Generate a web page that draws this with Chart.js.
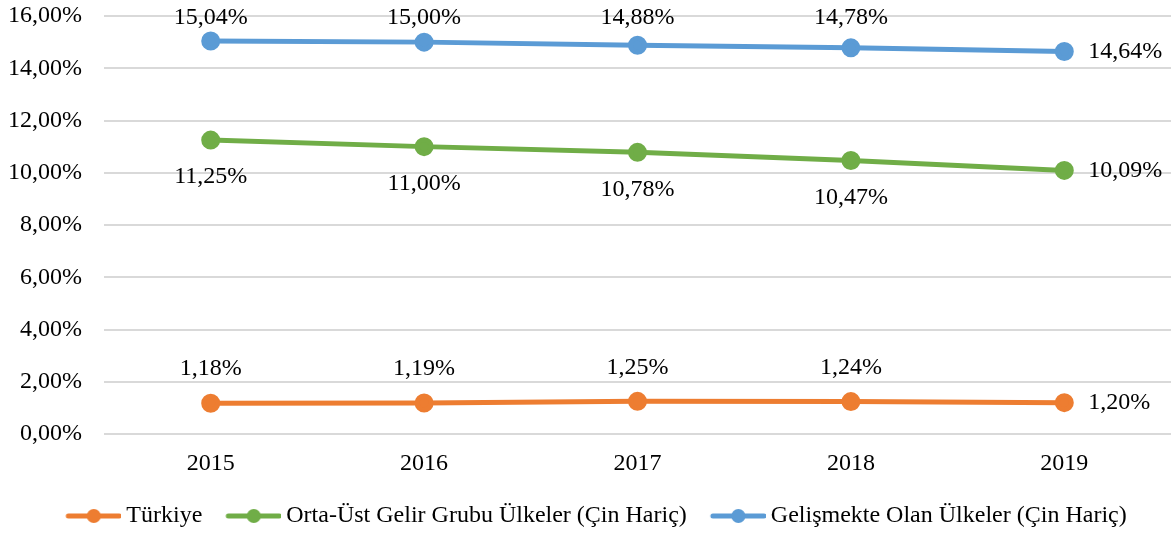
<!DOCTYPE html>
<html lang="tr">
<head>
  <meta charset="UTF-8">
  <title>Grafik</title>
  <script src="https://cdn.jsdelivr.net/npm/chart.js"></script>
  <style>
    html, body { margin: 0; padding: 0; background: #fff; }
    #kutu { width: 1171px; height: 536px; }
  </style>
</head>
<body>
  <div id="kutu"><canvas id="grafik"></canvas></div>

  <script>
    const yillar = ['2015', '2016', '2017', '2018', '2019'];
    const turkiye = [1.18, 1.19, 1.25, 1.24, 1.20];
    const ortaUst = [11.25, 11.00, 10.78, 10.47, 10.09];
    const gelismekte = [15.04, 15.00, 14.88, 14.78, 14.64];

    const FONT = 'Liberation Serif, Times New Roman, serif';
    const BOYUT = 24;
    const yuzde = v => v.toFixed(2).replace('.', ',') + '%';

    // legend marker: line with a dot, drawn on a small canvas
    // the image is centred on the legend box, line runs from 12 to 67 px of the item
    const KUTU_W = 60;
    function isaret(renk) {
      const W = 74, H = 16, o = W / 2 - KUTU_W / 2 + 12;
      const c = document.createElement('canvas');
      c.width = W; c.height = H;
      const g = c.getContext('2d');
      g.strokeStyle = renk; g.lineWidth = 5; g.lineCap = 'round';
      g.beginPath(); g.moveTo(o + 2, H / 2); g.lineTo(o + 53, H / 2); g.stroke();
      g.fillStyle = renk;
      g.beginPath(); g.arc(o + 27.5, H / 2, 7, 0, Math.PI * 2); g.fill();
      return c;
    }

    const etiketler = {
      id: 'etiketler',
      afterDatasetsDraw(chart) {
        const ctx = chart.ctx;
        ctx.save();
        ctx.font = BOYUT + 'px ' + FONT;
        ctx.fillStyle = '#000';
        ctx.textBaseline = 'middle';
        chart.data.datasets.forEach((ds, i) => {
          const meta = chart.getDatasetMeta(i);
          meta.data.forEach((p, j) => {
            const txt = yuzde(ds.data[j]);
            if (j === ds.data.length - 1) {
              ctx.textAlign = 'left';
              ctx.fillText(txt, p.x + 24, p.y);
            } else {
              ctx.textAlign = 'center';
              ctx.fillText(txt, p.x, ds.konum === 'alt' ? p.y + 37 : Math.max(p.y - 34, 18));
            }
          });
        });
        ctx.restore();
      }
    };

    function seri(ad, veri, renk, konum) {
      return {
        label: ad, data: veri, konum: konum, isaret: isaret(renk),
        borderColor: renk, backgroundColor: renk,
        pointBackgroundColor: renk, pointBorderColor: renk,
        borderWidth: 5, pointRadius: 7, pointHoverRadius: 7,
        pointStyle: 'circle', tension: 0, fill: false
      };
    }

    new Chart(document.getElementById('grafik'), {
      type: 'line',
      data: {
        labels: yillar,
        datasets: [
          seri('Türkiye', turkiye, '#ED7D31', 'ust'),
          seri('Orta-Üst Gelir Grubu Ülkeler (Çin Hariç)', ortaUst, '#70AD47', 'alt'),
          seri('Gelişmekte Olan Ülkeler (Çin Hariç)', gelismekte, '#5B9BD5', 'ust')
        ]
      },
      options: {
        responsive: true,
        maintainAspectRatio: false,
        animation: false,
        layout: { autoPadding: false, padding: { left: 10, right: 0, top: 0, bottom: -2 } },
        plugins: {
          tooltip: { enabled: false },
          legend: {
            position: 'bottom',
            labels: {
              usePointStyle: true,
              pointStyleWidth: KUTU_W,
              padding: 12,
              color: '#000',
              font: { family: FONT, size: BOYUT },
              generateLabels(chart) {
                return chart.data.datasets.map((ds, i) => ({
                  text: ds.label,
                  pointStyle: ds.isaret,
                  fillStyle: ds.borderColor,
                  strokeStyle: ds.borderColor,
                  lineWidth: 0,
                  hidden: false,
                  datasetIndex: i
                }));
              }
            }
          }
        },
        scales: {
          x: {
            offset: true,
            grid: { display: false },
            border: { display: false },
            ticks: { color: '#000', padding: 7, font: { family: FONT, size: BOYUT } },
            afterFit(s) { s.paddingLeft = 0; s.paddingRight = 0; s.height = 58; }
          },
          y: {
            min: 0, max: 16,
            grid: { color: '#d9d9d9', lineWidth: 2, drawTicks: false },
            border: { display: false },
            ticks: {
              stepSize: 2, padding: 22, color: '#000',
              font: { family: FONT, size: BOYUT },
              callback: v => yuzde(v)
            },
            afterFit(s) { s.paddingTop = 16; s.paddingBottom = 0; s.width = 94; }
          }
        }
      },
      plugins: [etiketler]
    });
  </script>
</body>
</html>
